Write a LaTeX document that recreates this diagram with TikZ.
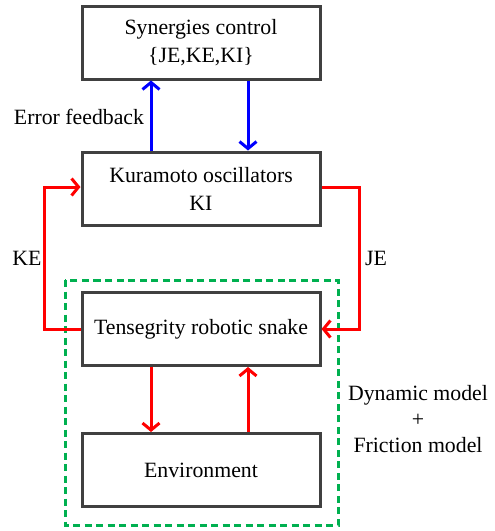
\documentclass[tikz,border=0pt]{standalone}
\usepackage{fontspec}
\setmainfont{Liberation Serif}
\usetikzlibrary{arrows.meta}
\definecolor{boxgray}{HTML}{404040}
\definecolor{arrblue}{HTML}{0000FF}
\definecolor{arrred}{HTML}{FF0000}
\definecolor{dashgreen}{HTML}{00B050}
\begin{document}
\begin{tikzpicture}[x=1pt,y=-1pt,
  blk/.style={draw=boxgray,line width=3pt,minimum width=238pt,minimum height=73pt,inner sep=0pt,align=center,font=\fontsize{21.8}{28}\selectfont},
  lbl/.style={align=center,inner sep=0pt,font=\fontsize{21.8}{26}\selectfont},
  con/.style={line width=3pt,-{Straight Barb[length=7pt,width=17pt,line width=3pt]}},
  blueline/.style={con,draw=arrblue},
  redline/.style={con,draw=arrred}]
\useasboundingbox (0,0) rectangle (495,531);
\node[blk] (sc) at (201,42.5) {Synergies control\\\{JE,KE,KI\}};
\node[blk] (ko) at (201,188.5) {Kuramoto oscillators\\KI};
\node[blk] (ts) at (201,329) {Tensegrity robotic snake};
\node[blk] (en) at (201,470) {Environment};
\draw[dashgreen,line width=3pt,dash pattern=on 7pt off 4.5pt] (65,280) rectangle (338,525);
\draw[blueline] ([xshift=-50pt]ko.north) -- ([xshift=-50pt]sc.south);
\draw[blueline] ([xshift=47pt]sc.south) -- ([xshift=47pt]ko.north);
\draw[redline] ([xshift=-50pt]ts.south) -- ([xshift=-50pt]en.north);
\draw[redline] ([xshift=47pt]en.north) -- ([xshift=47pt]ts.south);
\coordinate (kel) at (44,0);
\coordinate (jer) at (359,0);
\draw[redline] (ts.west) -| (kel |- ts.west) |- ([yshift=1.5pt]ko.west);
\draw[redline] ([yshift=1pt]ko.east) -| (jer |- ts.east) -- (ts.east);
\node[lbl] (ef) at (79,117) {Error feedback};
\node[lbl] (ke) at (27,258) {KE};
\node[lbl] (je) at (376,258) {JE};
\node[lbl] (dm) at (418,419) {Dynamic model\\+\\Friction model};
\end{tikzpicture}
\end{document}
